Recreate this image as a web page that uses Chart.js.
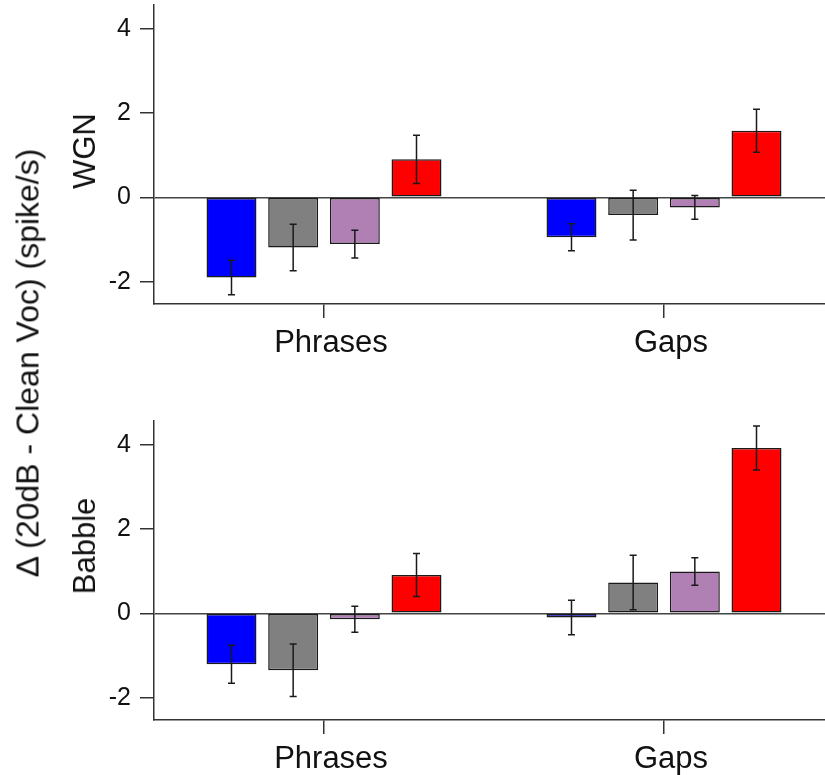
<!DOCTYPE html>
<html>
<head>
<meta charset="utf-8">
<script src="https://cdn.jsdelivr.net/npm/chart.js@4.4.1/dist/chart.umd.min.js"></script>
<style>
    html, body { margin: 0; padding: 0; background: #fff; overflow: hidden; }
    body { width: 825px; height: 775px; position: relative; }
    canvas { position: absolute; left: 0; }
    .vlabel {
        position: absolute;
        font-family: "Liberation Sans", Arial, sans-serif;
        color: #111;
        white-space: nowrap;
        transform: translate(-50%, -50%) rotate(-90deg);
    }
</style>
</head>
<body>
<canvas id="wgnChart" width="834" height="359" style="top:0px"></canvas>
<canvas id="babbleChart" width="834" height="359" style="top:416px"></canvas>
<div class="vlabel" style="left:28px; top:363px; font-size:32px;">Δ (20dB - Clean Voc) (spike/s)</div>
<div class="vlabel" style="left:85px; top:151px; font-size:31px;">WGN</div>
<div class="vlabel" style="left:85px; top:546px; font-size:31px;">Babble</div>
<script>
// ---- data ----
const categories = ['Phrases', 'Gaps'];
const yTicks = [-2, 0, 2, 4];

// WGN panel: mean change and error per group
const wgnBlue = [-1.90, -0.95];
const wgnGray = [-1.19, -0.42];
const wgnPurple = [-1.11, -0.24];
const wgnRed = [0.90, 1.58];
const wgnBlueErr = [0.41, 0.32];
const wgnGrayErr = [0.55, 0.59];
const wgnPurpleErr = [0.33, 0.28];
const wgnRedErr = [0.57, 0.51];

// Babble panel
const babbleBlue = [-1.21, -0.10];
const babbleGray = [-1.35, 0.73];
const babblePurple = [-0.14, 0.99];
const babbleRed = [0.91, 3.92];
const babbleBlueErr = [0.45, 0.41];
const babbleGrayErr = [0.62, 0.645];
const babblePurpleErr = [0.31, 0.325];
const babbleRedErr = [0.51, 0.52];

// ---- styling ----
const BAR_COLORS = ['#0000ff', '#808080', '#b07fb4', '#ff0000'];
const AXIS_COLOR = '#333333';
const FONT_FAMILY = '"Liberation Sans", Arial, sans-serif';

// Draws +/- error whiskers with caps on top of each bar
const errorBarPlugin = {
    id: 'errorBars',
    afterDatasetsDraw(chart) {
        const ctx = chart.ctx;
        const yScale = chart.scales.y;
        ctx.save();
        ctx.strokeStyle = '#1a1a1a';
        ctx.lineWidth = 1.5;
        chart.data.datasets.forEach((ds, i) => {
            const meta = chart.getDatasetMeta(i);
            meta.data.forEach((bar, j) => {
                const v = ds.data[j];
                const e = ds.errors[j];
                const yTop = yScale.getPixelForValue(v + e);
                const yBot = yScale.getPixelForValue(v - e);
                const cap = 3.5;
                ctx.beginPath();
                ctx.moveTo(bar.x, yTop);
                ctx.lineTo(bar.x, yBot);
                ctx.moveTo(bar.x - cap, yTop);
                ctx.lineTo(bar.x + cap, yTop);
                ctx.moveTo(bar.x - cap, yBot);
                ctx.lineTo(bar.x + cap, yBot);
                ctx.stroke();
            });
        });
        ctx.restore();
    }
};

function buildPanel(canvasId, means, errors) {
    const datasets = means.map((m, idx) => ({
        data: m,
        errors: errors[idx],
        backgroundColor: BAR_COLORS[idx],
        borderColor: '#1a1a1a',
        borderWidth: 1.5,
        borderSkipped: false,
        categoryPercentage: 0.7255,
        barPercentage: 0.81,
    }));

    return new Chart(document.getElementById(canvasId), {
        type: 'bar',
        data: { labels: categories, datasets: datasets },
        options: {
            responsive: false,
            animation: false,
            devicePixelRatio: 1,
            layout: { padding: { top: 5, left: 0, right: 0, bottom: 0 } },
            plugins: { legend: { display: false }, tooltip: { enabled: false } },
            scales: {
                x: {
                    offset: true,
                    grid: {
                        display: true,
                        drawOnChartArea: false,
                        offset: false,
                        tickLength: 14,
                        tickColor: AXIS_COLOR,
                        lineWidth: 1.5,
                    },
                    border: { display: true, color: AXIS_COLOR, width: 1.5 },
                    ticks: {
                        color: '#111',
                        font: { family: FONT_FAMILY, size: 31 },
                        padding: 7,
                        labelOffset: 7,
                        maxRotation: 0,
                    },
                    afterFit(scale) { scale.height = 55; },
                },
                y: {
                    min: -2.53,
                    max: 4.56,
                    afterBuildTicks(scale) {
                        scale.ticks = yTicks.map(v => ({ value: v }));
                    },
                    afterFit(scale) {
                        scale.width = 154;
                        // keep the plot area flush with the layout padding
                        scale.paddingTop = 0;
                        scale.paddingBottom = 0;
                    },
                    grid: {
                        drawOnChartArea: true,
                        color: c => (c.tick && c.tick.value === 0 ? '#444' : 'rgba(0,0,0,0)'),
                        tickColor: AXIS_COLOR,
                        tickLength: 14,
                        lineWidth: 1.5,
                    },
                    border: { display: true, color: AXIS_COLOR, width: 1.5 },
                    ticks: {
                        color: '#111',
                        font: { family: FONT_FAMILY, size: 25 },
                        padding: 9,
                    },
                },
            },
        },
        plugins: [errorBarPlugin],
    });
}

buildPanel('wgnChart',
    [wgnBlue, wgnGray, wgnPurple, wgnRed],
    [wgnBlueErr, wgnGrayErr, wgnPurpleErr, wgnRedErr]);

buildPanel('babbleChart',
    [babbleBlue, babbleGray, babblePurple, babbleRed],
    [babbleBlueErr, babbleGrayErr, babblePurpleErr, babbleRedErr]);
</script>
</body>
</html>
